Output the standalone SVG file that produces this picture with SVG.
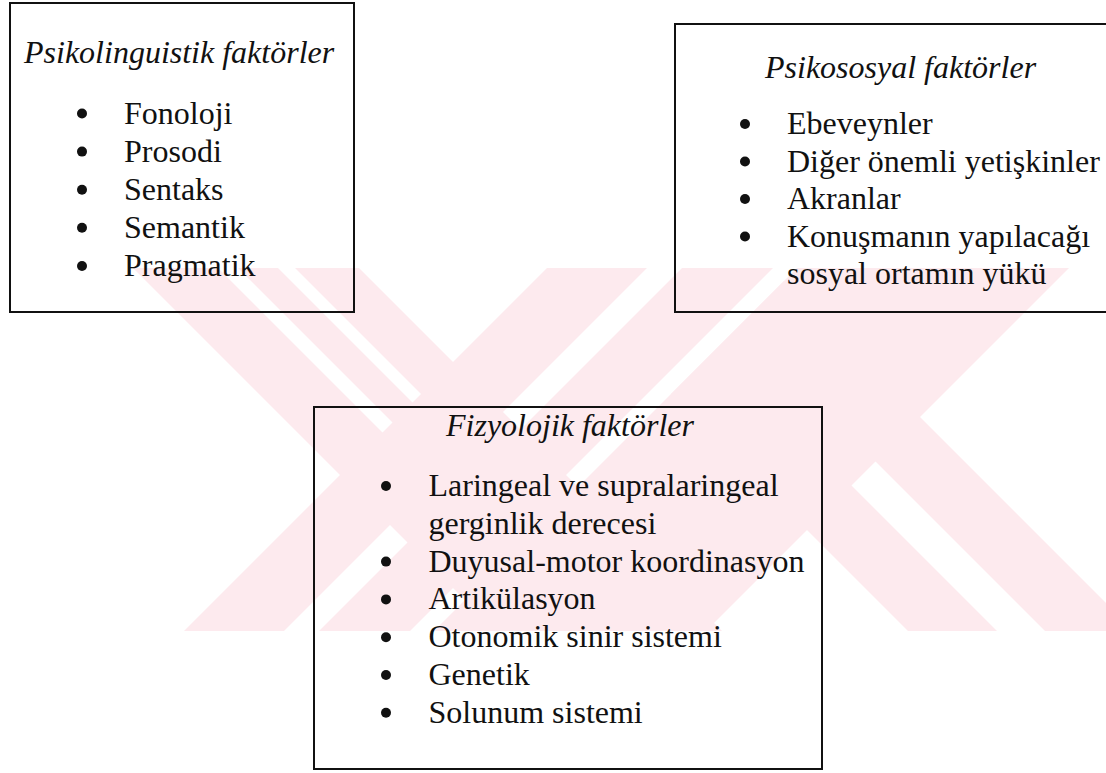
<svg xmlns="http://www.w3.org/2000/svg" width="1106" height="773" viewBox="0 0 1106 773">
  <defs>
    <clipPath id="wmclip"><rect x="0" y="268" width="1106" height="363"/></clipPath>
    <style>
      .wm { fill: #fdeaee; }
      .wmgap { fill: #ffffff; }
      .box { fill: none; stroke: #111; stroke-width: 2; }
      .title { font-family: "Liberation Serif", "Times New Roman", serif; font-style: italic; font-size: 32px; fill: #111; }
      .item { font-family: "Liberation Serif", "Times New Roman", serif; font-size: 32px; fill: #111; }
      .bullet { fill: #111; }
    </style>
  </defs>
  <rect x="0" y="0" width="1106" height="773" fill="#ffffff"/>

  <g id="watermark" clip-path="url(#wmclip)">
    <polygon class="wm" points="291,200 791,700 565,700 65,200"/>
    <polygon class="wm" points="615,200 841,200 341,700 115,700"/>
    <polygon class="wm" points="865,200 1137,200 637,700 365,700"/>
    <polygon class="wm" points="784,281 1203,700 977,700 671,394"/>
    <polygon class="wmgap" points="170,200 392.5,422.5 382.5,432.5 150,200"/>
    <polygon class="wmgap" points="227,200 421,394 412.5,402.5 210,200"/>
    <polygon class="wmgap" points="715,200 750,200 520.5,429.5 503,412"/>
    <polygon class="wmgap" points="390,525 407.5,542.5 250,700 215,700"/>
    <polygon class="wmgap" points="875.5,461.5 1114,700 1066,700 851.5,485.5"/>
  </g>

  <g id="connectors"></g>

  <g id="node-psikolinguistik">
    <rect class="box" x="10" y="3" width="344" height="309"/>
    <text class="title" x="24" y="63">Psikolinguistik faktörler</text>
    <circle class="bullet" cx="82" cy="113.5" r="5"/>
    <text class="item" x="124" y="123.5">Fonoloji</text>
    <circle class="bullet" cx="82" cy="151.6" r="5"/>
    <text class="item" x="124" y="161.6">Prosodi</text>
    <circle class="bullet" cx="82" cy="189.7" r="5"/>
    <text class="item" x="124" y="199.7">Sentaks</text>
    <circle class="bullet" cx="82" cy="227.8" r="5"/>
    <text class="item" x="124" y="237.8">Semantik</text>
    <circle class="bullet" cx="82" cy="266" r="5"/>
    <text class="item" x="124" y="276">Pragmatik</text>
  </g>

  <g id="node-psikososyal">
    <path class="box" d="M1108,24 H675 V312 H1108"/>
    <text class="title" x="765" y="78">Psikososyal faktörler</text>
    <circle class="bullet" cx="745" cy="124" r="5"/>
    <text class="item" x="787" y="134">Ebeveynler</text>
    <circle class="bullet" cx="745" cy="161.5" r="5"/>
    <text class="item" x="787" y="171.5">Diğer önemli yetişkinler</text>
    <circle class="bullet" cx="745" cy="199" r="5"/>
    <text class="item" x="787" y="209">Akranlar</text>
    <circle class="bullet" cx="745" cy="236.5" r="5"/>
    <text class="item" x="787" y="246.5">Konuşmanın yapılacağı</text>
    <text class="item" x="787" y="284">sosyal ortamın yükü</text>
  </g>

  <g id="node-fizyolojik">
    <rect class="box" x="314" y="407" width="508" height="362"/>
    <text class="title" x="446" y="436">Fizyolojik faktörler</text>
    <circle class="bullet" cx="386" cy="486" r="5"/>
    <text class="item" x="428.5" y="496">Laringeal ve supralaringeal</text>
    <text class="item" x="428.5" y="533.8">gerginlik derecesi</text>
    <circle class="bullet" cx="386" cy="561.6" r="5"/>
    <text class="item" x="428.5" y="571.6">Duyusal-motor koordinasyon</text>
    <circle class="bullet" cx="386" cy="599.4" r="5"/>
    <text class="item" x="428.5" y="609.4">Artikülasyon</text>
    <circle class="bullet" cx="386" cy="637.2" r="5"/>
    <text class="item" x="428.5" y="647.2">Otonomik sinir sistemi</text>
    <circle class="bullet" cx="386" cy="675" r="5"/>
    <text class="item" x="428.5" y="685">Genetik</text>
    <circle class="bullet" cx="386" cy="712.8" r="5"/>
    <text class="item" x="428.5" y="722.8">Solunum sistemi</text>
  </g>
</svg>
